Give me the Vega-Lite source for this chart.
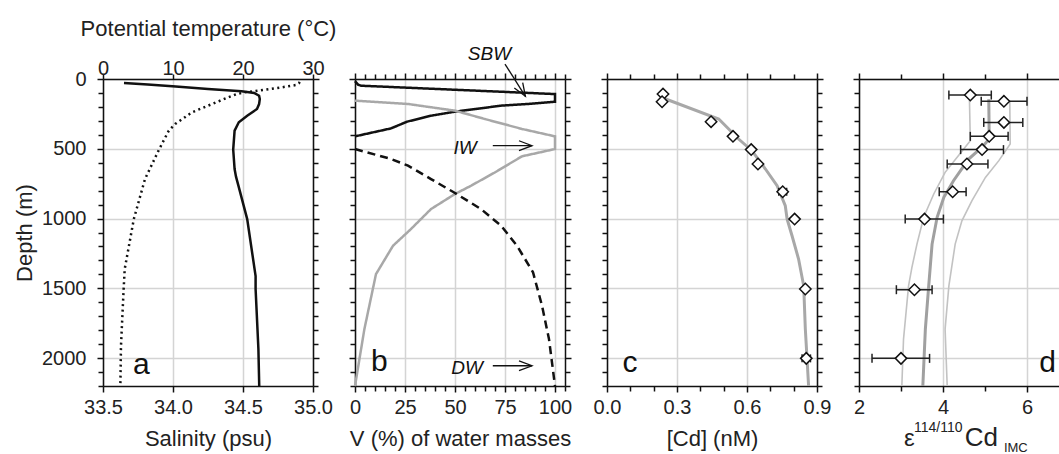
{
  "$schema": "https://vega.github.io/schema/vega-lite/v6.json",
  "padding": {"left": 13, "top": 17, "right": 0, "bottom": 0},
  "bounds": "flush",
  "spacing": 42,
  "resolve": {"scale": {"color": "independent", "strokeDash": "independent", "strokeWidth": "independent"}},
  "config": {
    "font": "Liberation Sans",
    "view": {"stroke": null},
    "axis": {
      "domainColor": "#111", "domainWidth": 1.5, "tickColor": "#111", "tickWidth": 1.5,
      "gridColor": "#d4d4d4", "gridWidth": 1.5,
      "labelFont": "Liberation Sans", "labelFontSize": 20, "labelColor": "#222",
      "titleFont": "Liberation Sans", "titleFontSize": 22, "titleFontWeight": "normal", "titleColor": "#222",
      "labelFlush": false, "labelOverlap": false, "labelBound": false
    }
  },
  "datasets": {
    "a_sal": [
      {"depth": 29, "sal": 33.65}, {"depth": 40, "sal": 33.82}, {"depth": 53, "sal": 34.02}, {"depth": 72, "sal": 34.25},
      {"depth": 88, "sal": 34.49}, {"depth": 100, "sal": 34.58}, {"depth": 120, "sal": 34.615}, {"depth": 143, "sal": 34.62},
      {"depth": 180, "sal": 34.615}, {"depth": 215, "sal": 34.6}, {"depth": 263, "sal": 34.53}, {"depth": 310, "sal": 34.47},
      {"depth": 370, "sal": 34.44}, {"depth": 506, "sal": 34.43}, {"depth": 645, "sal": 34.44}, {"depth": 700, "sal": 34.45},
      {"depth": 775, "sal": 34.47}, {"depth": 1004, "sal": 34.53}, {"depth": 1412, "sal": 34.59}, {"depth": 1505, "sal": 34.59},
      {"depth": 1935, "sal": 34.61}, {"depth": 2200, "sal": 34.616}
    ],
    "a_temp": [
      {"depth": 20, "temp": 28.1}, {"depth": 29, "temp": 28.0}, {"depth": 43, "temp": 27.6}, {"depth": 60, "temp": 25.5},
      {"depth": 76, "temp": 23.2}, {"depth": 96, "temp": 20.2}, {"depth": 110, "temp": 19.0}, {"depth": 131, "temp": 17.9},
      {"depth": 179, "temp": 15.6}, {"depth": 239, "temp": 12.7}, {"depth": 323, "temp": 10.3}, {"depth": 370, "temp": 9.4},
      {"depth": 506, "temp": 8.0}, {"depth": 717, "temp": 6.0}, {"depth": 1004, "temp": 4.4}, {"depth": 1362, "temp": 3.1},
      {"depth": 1505, "temp": 2.95}, {"depth": 1911, "temp": 2.57}, {"depth": 2200, "temp": 2.48}
    ],
    "b": [
      {"mass": "SBW", "depth": 15, "v": 0}, {"mass": "SBW", "depth": 40, "v": 1.5}, {"mass": "SBW", "depth": 48, "v": 3},
      {"mass": "SBW", "depth": 108, "v": 100}, {"mass": "SBW", "depth": 163, "v": 100}, {"mass": "SBW", "depth": 179, "v": 86.5},
      {"mass": "SBW", "depth": 191, "v": 73}, {"mass": "SBW", "depth": 210, "v": 63}, {"mass": "SBW", "depth": 234, "v": 50},
      {"mass": "SBW", "depth": 263, "v": 38}, {"mass": "SBW", "depth": 306, "v": 26}, {"mass": "SBW", "depth": 354, "v": 18},
      {"mass": "SBW", "depth": 411, "v": 0},
      {"mass": "IW", "depth": 155, "v": 0}, {"mass": "IW", "depth": 179, "v": 26.5}, {"mass": "IW", "depth": 227, "v": 50},
      {"mass": "IW", "depth": 287, "v": 65}, {"mass": "IW", "depth": 358, "v": 83.5}, {"mass": "IW", "depth": 411, "v": 100},
      {"mass": "IW", "depth": 502, "v": 100}, {"mass": "IW", "depth": 554, "v": 83.5}, {"mass": "IW", "depth": 669, "v": 70},
      {"mass": "IW", "depth": 765, "v": 58}, {"mass": "IW", "depth": 824, "v": 50}, {"mass": "IW", "depth": 932, "v": 38},
      {"mass": "IW", "depth": 1075, "v": 28}, {"mass": "IW", "depth": 1195, "v": 19}, {"mass": "IW", "depth": 1398, "v": 10.5},
      {"mass": "IW", "depth": 1792, "v": 4.7}, {"mass": "IW", "depth": 2200, "v": 0},
      {"mass": "DW", "depth": 502, "v": 0}, {"mass": "DW", "depth": 573, "v": 18}, {"mass": "DW", "depth": 621, "v": 26.5},
      {"mass": "DW", "depth": 717, "v": 38}, {"mass": "DW", "depth": 817, "v": 50}, {"mass": "DW", "depth": 932, "v": 63},
      {"mass": "DW", "depth": 1051, "v": 73}, {"mass": "DW", "depth": 1195, "v": 81}, {"mass": "DW", "depth": 1385, "v": 89},
      {"mass": "DW", "depth": 1624, "v": 93.5}, {"mass": "DW", "depth": 1864, "v": 97}, {"mass": "DW", "depth": 2200, "v": 100}
    ],
    "c_pts": [
      {"depth": 108, "cd": 0.24}, {"depth": 163, "cd": 0.236}, {"depth": 306, "cd": 0.446}, {"depth": 411, "cd": 0.54},
      {"depth": 506, "cd": 0.618}, {"depth": 609, "cd": 0.647}, {"depth": 808, "cd": 0.753}, {"depth": 1004, "cd": 0.804},
      {"depth": 1505, "cd": 0.85}, {"depth": 2002, "cd": 0.854}
    ],
    "c_err": [
      {"depth": 808, "lo": 0.736, "hi": 0.77}, {"depth": 2002, "lo": 0.836, "hi": 0.872}
    ],
    "c_line": [
      {"depth": 138, "cd": 0.243}, {"depth": 287, "cd": 0.479}, {"depth": 430, "cd": 0.564}, {"depth": 514, "cd": 0.621},
      {"depth": 645, "cd": 0.679}, {"depth": 765, "cd": 0.729}, {"depth": 908, "cd": 0.764}, {"depth": 1004, "cd": 0.772},
      {"depth": 1123, "cd": 0.793}, {"depth": 1290, "cd": 0.821}, {"depth": 1482, "cd": 0.843}, {"depth": 1792, "cd": 0.85},
      {"depth": 2200, "cd": 0.864}
    ],
    "d_pts": [
      {"depth": 115, "eps": 4.65, "lo": 4.14, "hi": 5.15}, {"depth": 160, "eps": 5.45, "lo": 4.91, "hi": 6.0},
      {"depth": 311, "eps": 5.45, "lo": 4.97, "hi": 5.9}, {"depth": 411, "eps": 5.1, "lo": 4.65, "hi": 5.55},
      {"depth": 506, "eps": 4.93, "lo": 4.42, "hi": 5.44}, {"depth": 609, "eps": 4.57, "lo": 4.1, "hi": 5.07},
      {"depth": 808, "eps": 4.23, "lo": 3.91, "hi": 4.55}, {"depth": 1004, "eps": 3.56, "lo": 3.1, "hi": 4.01},
      {"depth": 1510, "eps": 3.32, "lo": 2.89, "hi": 3.74}, {"depth": 2002, "eps": 3.0, "lo": 2.31, "hi": 3.68}
    ],
    "d_lines": [
      {"band": "lo", "depth": 150, "eps": 4.63}, {"band": "lo", "depth": 442, "eps": 4.65}, {"band": "lo", "depth": 549, "eps": 4.37},
      {"band": "lo", "depth": 669, "eps": 4.05}, {"band": "lo", "depth": 824, "eps": 3.78}, {"band": "lo", "depth": 991, "eps": 3.54},
      {"band": "lo", "depth": 1183, "eps": 3.38}, {"band": "lo", "depth": 1350, "eps": 3.26}, {"band": "lo", "depth": 1482, "eps": 3.18},
      {"band": "lo", "depth": 1864, "eps": 3.06}, {"band": "lo", "depth": 2200, "eps": 3.02},
      {"band": "mid", "depth": 145, "eps": 5.09}, {"band": "mid", "depth": 430, "eps": 5.1}, {"band": "mid", "depth": 489, "eps": 4.93},
      {"band": "mid", "depth": 574, "eps": 4.61}, {"band": "mid", "depth": 729, "eps": 4.25}, {"band": "mid", "depth": 848, "eps": 4.02},
      {"band": "mid", "depth": 991, "eps": 3.86}, {"band": "mid", "depth": 1183, "eps": 3.74}, {"band": "mid", "depth": 1482, "eps": 3.66},
      {"band": "mid", "depth": 1792, "eps": 3.58}, {"band": "mid", "depth": 2200, "eps": 3.52},
      {"band": "hi", "depth": 165, "eps": 5.59}, {"band": "hi", "depth": 466, "eps": 5.6}, {"band": "hi", "depth": 585, "eps": 5.33},
      {"band": "hi", "depth": 705, "eps": 5.01}, {"band": "hi", "depth": 872, "eps": 4.69}, {"band": "hi", "depth": 1016, "eps": 4.45},
      {"band": "hi", "depth": 1183, "eps": 4.29}, {"band": "hi", "depth": 1482, "eps": 4.14}, {"band": "hi", "depth": 1792, "eps": 4.05},
      {"band": "hi", "depth": 2200, "eps": 4.1}
    ]
  },
  "hconcat": [
    {
      "width": 210, "height": 307,
      "resolve": {"scale": {"x": "independent", "y": "independent"}},
      "layer": [
        {
          "data": {"name": "a_sal"},
          "mark": {"type": "line", "color": "#111", "strokeWidth": 2.5},
          "encoding": {
            "x": {"field": "sal", "type": "quantitative", "scale": {"domain": [33.5, 35], "nice": false, "zero": false},
              "axis": {"orient": "bottom", "title": "Salinity (psu)", "values": [33.5, 34, 34.5, 35], "format": ".1f", "tickSize": 6, "labelPadding": 5, "titlePadding": 11, "grid": true}},
            "y": {"field": "depth", "type": "quantitative", "scale": {"domain": [0, 2200], "reverse": true, "nice": false, "zero": false},
              "axis": {"orient": "left", "title": "Depth (m)", "values": [0,100,200,300,400,500,600,700,800,900,1000,1100,1200,1300,1400,1500,1600,1700,1800,1900,2000,2100,2200],
                "labelExpr": "datum.value % 500 === 0 ? format(datum.value, 'd') : ''",
                "tickSize": {"condition": {"test": "datum.value % 500 === 0", "value": 6}, "value": 5},
                "grid": true, "gridOpacity": {"condition": {"test": "datum.value % 500 === 0", "value": 1}, "value": 0},
                "labelPadding": 11, "titlePadding": 5.5}},
            "order": {"field": "depth"}
          }
        },
        {
          "data": {"name": "a_temp"},
          "mark": {"type": "line", "color": "#111", "strokeWidth": 2.5, "strokeDash": [2, 3.5]},
          "encoding": {
            "x": {"field": "temp", "type": "quantitative", "scale": {"domain": [0, 30], "nice": false, "zero": false},
              "axis": {"orient": "top", "title": "Potential temperature (°C)", "values": [0, 10, 20, 30], "tickSize": 5, "labelPadding": -4.5, "titlePadding": 18.5, "grid": false}},
            "y": {"field": "depth", "type": "quantitative", "scale": {"domain": [0, 2200], "reverse": true, "nice": false, "zero": false},
              "axis": {"orient": "right", "title": null, "labels": false, "values": [0,100,200,300,400,500,600,700,800,900,1000,1100,1200,1300,1400,1500,1600,1700,1800,1900,2000,2100,2200],
                "tickSize": {"condition": {"test": "datum.value % 500 === 0", "value": 6}, "value": 5}, "grid": false}},
            "order": {"field": "depth"}
          }
        },
        {
          "data": {"values": [{}]},
          "mark": {"type": "text", "text": "a", "font": "Liberation Sans", "fontSize": 30, "align": "left", "baseline": "alphabetic", "color": "#111"},
          "encoding": {
            "x": {"datum": 33.714, "type": "quantitative", "scale": {"domain": [33.5, 35], "nice": false, "zero": false}, "axis": null},
            "y": {"datum": 2115, "type": "quantitative", "scale": {"domain": [0, 2200], "reverse": true, "nice": false, "zero": false}, "axis": null}
          }
        }
      ]
    },
    {
      "width": 210, "height": 307,
      "resolve": {"scale": {"x": "independent", "y": "independent"}},
      "layer": [
        {
          "data": {"name": "b"},
          "mark": {"type": "line", "strokeWidth": 2.5},
          "encoding": {
            "x": {"field": "v", "type": "quantitative", "scale": {"domain": [0, 105], "nice": false, "zero": false},
              "axis": {"orient": "bottom", "title": "V (%) of water masses", "values": [0,5,10,15,20,25,30,35,40,45,50,55,60,65,70,75,80,85,90,95,100,105],
                "labelExpr": "datum.value % 25 === 0 ? datum.label : ''",
                "tickSize": {"condition": {"test": "datum.value % 25 === 0", "value": 6}, "value": 5},
                "grid": true, "gridOpacity": {"condition": {"test": "datum.value % 25 === 0", "value": 1}, "value": 0},
                "labelPadding": 5, "titlePadding": 11}},
            "y": {"field": "depth", "type": "quantitative", "scale": {"domain": [0, 2200], "reverse": true, "nice": false, "zero": false},
              "axis": {"orient": "left", "title": null, "labels": false, "values": [0,100,200,300,400,500,600,700,800,900,1000,1100,1200,1300,1400,1500,1600,1700,1800,1900,2000,2100,2200],
                "tickSize": {"condition": {"test": "datum.value % 500 === 0", "value": 6}, "value": 5},
                "grid": true, "gridOpacity": {"condition": {"test": "datum.value % 500 === 0", "value": 1}, "value": 0}}},
            "color": {"field": "mass", "type": "nominal", "scale": {"type": "ordinal", "domain": ["SBW", "IW", "DW"], "range": ["#111111", "#a8a8a8", "#111111"]}, "legend": null},
            "strokeDash": {"field": "mass", "type": "nominal", "scale": {"type": "ordinal", "domain": ["SBW", "IW", "DW"], "range": [[1, 0], [1, 0], [8, 5]]}, "legend": null},
            "order": {"field": "depth"}
          }
        },
        {
          "data": {"name": "b"},
          "mark": {"type": "point", "opacity": 0},
          "encoding": {
            "x": {"field": "v", "type": "quantitative", "scale": {"domain": [0, 105], "nice": false, "zero": false},
              "axis": {"orient": "top", "title": null, "labels": false, "values": [0,5,10,15,20,25,30,35,40,45,50,55,60,65,70,75,80,85,90,95,100,105],
                "tickSize": {"condition": {"test": "datum.value % 25 === 0", "value": 6}, "value": 5}, "grid": false}},
            "y": {"field": "depth", "type": "quantitative", "scale": {"domain": [0, 2200], "reverse": true, "nice": false, "zero": false},
              "axis": {"orient": "right", "title": null, "labels": false, "values": [0,100,200,300,400,500,600,700,800,900,1000,1100,1200,1300,1400,1500,1600,1700,1800,1900,2000,2100,2200],
                "tickSize": {"condition": {"test": "datum.value % 500 === 0", "value": 6}, "value": 5}, "grid": false}}
          }
        },
        {
          "data": {"values": [{}]},
          "mark": {"type": "text", "text": "SBW", "font": "Liberation Sans", "fontSize": 19, "fontStyle": "italic", "align": "center", "baseline": "alphabetic", "color": "#111"},
          "encoding": {
            "x": {"datum": 67.25, "type": "quantitative", "scale": {"domain": [0, 105], "nice": false, "zero": false}, "axis": null},
            "y": {"datum": -136, "type": "quantitative", "scale": {"domain": [0, 2200], "reverse": true, "nice": false, "zero": false}, "axis": null}
          }
        },
        {
          "data": {"values": [{}]},
          "mark": {"type": "text", "text": "IW", "font": "Liberation Sans", "fontSize": 19, "fontStyle": "italic", "align": "center", "baseline": "alphabetic", "color": "#111"},
          "encoding": {
            "x": {"datum": 55, "type": "quantitative", "scale": {"domain": [0, 105], "nice": false, "zero": false}, "axis": null},
            "y": {"datum": 538, "type": "quantitative", "scale": {"domain": [0, 2200], "reverse": true, "nice": false, "zero": false}, "axis": null}
          }
        },
        {
          "data": {"values": [{}]},
          "mark": {"type": "text", "text": "DW", "font": "Liberation Sans", "fontSize": 19, "fontStyle": "italic", "align": "center", "baseline": "alphabetic", "color": "#111"},
          "encoding": {
            "x": {"datum": 56, "type": "quantitative", "scale": {"domain": [0, 105], "nice": false, "zero": false}, "axis": null},
            "y": {"datum": 2115, "type": "quantitative", "scale": {"domain": [0, 2200], "reverse": true, "nice": false, "zero": false}, "axis": null}
          }
        },
        {
          "data": {"values": [{}]},
          "mark": {"type": "text", "text": "b", "font": "Liberation Sans", "fontSize": 30, "align": "left", "baseline": "alphabetic", "color": "#111"},
          "encoding": {
            "x": {"datum": 8, "type": "quantitative", "scale": {"domain": [0, 105], "nice": false, "zero": false}, "axis": null},
            "y": {"datum": 2095, "type": "quantitative", "scale": {"domain": [0, 2200], "reverse": true, "nice": false, "zero": false}, "axis": null}
          }
        },
        {
          "data": {"values": [{}]},
          "mark": {"type": "rule", "color": "#111", "strokeWidth": 1.3},
          "encoding": {
            "x": {"datum": 75, "type": "quantitative", "scale": {"domain": [0, 105], "nice": false, "zero": false}, "axis": null},
            "x2": {"datum": 85.2},
            "y": {"datum": -107, "type": "quantitative", "scale": {"domain": [0, 2200], "reverse": true, "nice": false, "zero": false}, "axis": null},
            "y2": {"datum": 124}
          }
        },
        {
          "data": {"values": [{}]},
          "mark": {"type": "point", "shape": "M-1,-0.38L0,0L-1,0.38", "size": 676, "filled": false, "color": "#111", "strokeWidth": 1.3, "opacity": 1, "angle": 58},
          "encoding": {
            "x": {"datum": 85.2, "type": "quantitative", "scale": {"domain": [0, 105], "nice": false, "zero": false}, "axis": null},
            "y": {"datum": 124, "type": "quantitative", "scale": {"domain": [0, 2200], "reverse": true, "nice": false, "zero": false}, "axis": null}
          }
        },
        {
          "data": {"values": [{}]},
          "mark": {"type": "rule", "color": "#111", "strokeWidth": 1.3},
          "encoding": {
            "x": {"datum": 68.9, "type": "quantitative", "scale": {"domain": [0, 105], "nice": false, "zero": false}, "axis": null},
            "x2": {"datum": 88.5},
            "y": {"datum": 478, "type": "quantitative", "scale": {"domain": [0, 2200], "reverse": true, "nice": false, "zero": false}, "axis": null}
          }
        },
        {
          "data": {"values": [{}]},
          "mark": {"type": "point", "shape": "M-1,-0.38L0,0L-1,0.38", "size": 676, "filled": false, "color": "#111", "strokeWidth": 1.3, "opacity": 1},
          "encoding": {
            "x": {"datum": 88.5, "type": "quantitative", "scale": {"domain": [0, 105], "nice": false, "zero": false}, "axis": null},
            "y": {"datum": 478, "type": "quantitative", "scale": {"domain": [0, 2200], "reverse": true, "nice": false, "zero": false}, "axis": null}
          }
        },
        {
          "data": {"values": [{}]},
          "mark": {"type": "rule", "color": "#111", "strokeWidth": 1.3},
          "encoding": {
            "x": {"datum": 68.9, "type": "quantitative", "scale": {"domain": [0, 105], "nice": false, "zero": false}, "axis": null},
            "x2": {"datum": 88.5},
            "y": {"datum": 2055, "type": "quantitative", "scale": {"domain": [0, 2200], "reverse": true, "nice": false, "zero": false}, "axis": null}
          }
        },
        {
          "data": {"values": [{}]},
          "mark": {"type": "point", "shape": "M-1,-0.38L0,0L-1,0.38", "size": 676, "filled": false, "color": "#111", "strokeWidth": 1.3, "opacity": 1},
          "encoding": {
            "x": {"datum": 88.5, "type": "quantitative", "scale": {"domain": [0, 105], "nice": false, "zero": false}, "axis": null},
            "y": {"datum": 2055, "type": "quantitative", "scale": {"domain": [0, 2200], "reverse": true, "nice": false, "zero": false}, "axis": null}
          }
        }
      ]
    },
    {
      "width": 210, "height": 307,
      "resolve": {"scale": {"x": "independent", "y": "independent"}},
      "layer": [
        {
          "data": {"name": "c_line"},
          "mark": {"type": "line", "color": "#a8a8a8", "strokeWidth": 3},
          "encoding": {
            "x": {"field": "cd", "type": "quantitative", "scale": {"domain": [0, 0.9], "nice": false, "zero": false},
              "axis": {"orient": "bottom", "title": "[Cd] (nM)", "values": [0,0.1,0.2,0.3,0.4,0.5,0.6,0.7,0.8,0.9],
                "labelExpr": "round(datum.value*10) % 3 === 0 ? format(datum.value, '.1f') : ''",
                "tickSize": {"condition": {"test": "round(datum.value*10) % 3 === 0", "value": 6}, "value": 5},
                "grid": true, "gridOpacity": {"condition": {"test": "round(datum.value*10) % 3 === 0", "value": 1}, "value": 0},
                "labelPadding": 5, "titlePadding": 11}},
            "y": {"field": "depth", "type": "quantitative", "scale": {"domain": [0, 2200], "reverse": true, "nice": false, "zero": false},
              "axis": {"orient": "left", "title": null, "labels": false, "values": [0,100,200,300,400,500,600,700,800,900,1000,1100,1200,1300,1400,1500,1600,1700,1800,1900,2000,2100,2200],
                "tickSize": {"condition": {"test": "datum.value % 500 === 0", "value": 6}, "value": 5},
                "grid": true, "gridOpacity": {"condition": {"test": "datum.value % 500 === 0", "value": 1}, "value": 0}}},
            "order": {"field": "depth"}
          }
        },
        {
          "data": {"name": "c_pts"},
          "mark": {"type": "point", "opacity": 0},
          "encoding": {
            "x": {"field": "cd", "type": "quantitative", "scale": {"domain": [0, 0.9], "nice": false, "zero": false},
              "axis": {"orient": "top", "title": null, "labels": false, "values": [0,0.1,0.2,0.3,0.4,0.5,0.6,0.7,0.8,0.9],
                "tickSize": {"condition": {"test": "round(datum.value*10) % 3 === 0", "value": 6}, "value": 5}, "grid": false}},
            "y": {"field": "depth", "type": "quantitative", "scale": {"domain": [0, 2200], "reverse": true, "nice": false, "zero": false},
              "axis": {"orient": "right", "title": null, "labels": false, "values": [0,100,200,300,400,500,600,700,800,900,1000,1100,1200,1300,1400,1500,1600,1700,1800,1900,2000,2100,2200],
                "tickSize": {"condition": {"test": "datum.value % 500 === 0", "value": 6}, "value": 5}, "grid": false}}
          }
        },
        {
          "data": {"name": "c_err"},
          "mark": {"type": "rule", "color": "#222", "strokeWidth": 1.5},
          "encoding": {
            "x": {"field": "lo", "type": "quantitative", "scale": {"domain": [0, 0.9], "nice": false, "zero": false}, "axis": null},
            "x2": {"field": "hi"},
            "y": {"field": "depth", "type": "quantitative", "scale": {"domain": [0, 2200], "reverse": true, "nice": false, "zero": false}, "axis": null}
          }
        },
        {
          "data": {"name": "c_err"},
          "mark": {"type": "tick", "orient": "vertical", "color": "#222", "thickness": 1.5, "size": 8, "opacity": 1},
          "encoding": {
            "x": {"field": "lo", "type": "quantitative", "scale": {"domain": [0, 0.9], "nice": false, "zero": false}, "axis": null},
            "y": {"field": "depth", "type": "quantitative", "scale": {"domain": [0, 2200], "reverse": true, "nice": false, "zero": false}, "axis": null}
          }
        },
        {
          "data": {"name": "c_err"},
          "mark": {"type": "tick", "orient": "vertical", "color": "#222", "thickness": 1.5, "size": 8, "opacity": 1},
          "encoding": {
            "x": {"field": "hi", "type": "quantitative", "scale": {"domain": [0, 0.9], "nice": false, "zero": false}, "axis": null},
            "y": {"field": "depth", "type": "quantitative", "scale": {"domain": [0, 2200], "reverse": true, "nice": false, "zero": false}, "axis": null}
          }
        },
        {
          "data": {"name": "c_pts"},
          "mark": {"type": "point", "shape": "diamond", "size": 130, "filled": true, "fill": "#ffffff", "stroke": "#111", "strokeWidth": 1.5, "opacity": 1},
          "encoding": {
            "x": {"field": "cd", "type": "quantitative", "scale": {"domain": [0, 0.9], "nice": false, "zero": false}, "axis": null},
            "y": {"field": "depth", "type": "quantitative", "scale": {"domain": [0, 2200], "reverse": true, "nice": false, "zero": false}, "axis": null}
          }
        },
        {
          "data": {"values": [{}]},
          "mark": {"type": "text", "text": "c", "font": "Liberation Sans", "fontSize": 30, "align": "left", "baseline": "alphabetic", "color": "#111"},
          "encoding": {
            "x": {"datum": 0.066, "type": "quantitative", "scale": {"domain": [0, 0.9], "nice": false, "zero": false}, "axis": null},
            "y": {"datum": 2098, "type": "quantitative", "scale": {"domain": [0, 2200], "reverse": true, "nice": false, "zero": false}, "axis": null}
          }
        }
      ]
    },
    {
      "width": 210, "height": 307,
      "resolve": {"scale": {"x": "independent", "y": "independent"}},
      "layer": [
        {
          "data": {"name": "d_lines"},
          "mark": {"type": "line"},
          "encoding": {
            "x": {"field": "eps", "type": "quantitative", "scale": {"domain": [2, 7], "nice": false, "zero": false},
              "axis": {"orient": "bottom", "title": null, "values": [2,3,4,5,6,7],
                "labelExpr": "datum.value % 2 === 0 ? datum.label : ''",
                "tickSize": {"condition": {"test": "datum.value % 2 === 0", "value": 6}, "value": 5},
                "grid": true, "gridOpacity": {"condition": {"test": "datum.value % 2 === 0", "value": 1}, "value": 0},
                "labelPadding": 5}},
            "y": {"field": "depth", "type": "quantitative", "scale": {"domain": [0, 2200], "reverse": true, "nice": false, "zero": false},
              "axis": {"orient": "left", "title": null, "labels": false, "values": [0,100,200,300,400,500,600,700,800,900,1000,1100,1200,1300,1400,1500,1600,1700,1800,1900,2000,2100,2200],
                "tickSize": {"condition": {"test": "datum.value % 500 === 0", "value": 6}, "value": 5},
                "grid": true, "gridOpacity": {"condition": {"test": "datum.value % 500 === 0", "value": 1}, "value": 0}}},
            "color": {"field": "band", "type": "nominal", "scale": {"type": "ordinal", "domain": ["lo", "mid", "hi"], "range": ["#c2c2c2", "#a0a0a0", "#c2c2c2"]}, "legend": null},
            "strokeWidth": {"field": "band", "type": "nominal", "scale": {"type": "ordinal", "domain": ["lo", "mid", "hi"], "range": [1.6, 3, 1.6]}, "legend": null},
            "order": {"field": "depth"}
          }
        },
        {
          "data": {"name": "d_pts"},
          "mark": {"type": "point", "opacity": 0},
          "encoding": {
            "x": {"field": "eps", "type": "quantitative", "scale": {"domain": [2, 7], "nice": false, "zero": false},
              "axis": {"orient": "top", "title": null, "labels": false, "values": [2,3,4,5,6,7],
                "tickSize": {"condition": {"test": "datum.value % 2 === 0", "value": 6}, "value": 5}, "grid": false}},
            "y": {"field": "depth", "type": "quantitative", "scale": {"domain": [0, 2200], "reverse": true, "nice": false, "zero": false},
              "axis": {"orient": "right", "title": null, "labels": false, "values": [0,100,200,300,400,500,600,700,800,900,1000,1100,1200,1300,1400,1500,1600,1700,1800,1900,2000,2100,2200],
                "tickSize": {"condition": {"test": "datum.value % 500 === 0", "value": 6}, "value": 5}, "grid": false}}
          }
        },
        {
          "data": {"name": "d_pts"},
          "mark": {"type": "rule", "color": "#222", "strokeWidth": 1.5},
          "encoding": {
            "x": {"field": "lo", "type": "quantitative", "scale": {"domain": [2, 7], "nice": false, "zero": false}, "axis": null},
            "x2": {"field": "hi"},
            "y": {"field": "depth", "type": "quantitative", "scale": {"domain": [0, 2200], "reverse": true, "nice": false, "zero": false}, "axis": null}
          }
        },
        {
          "data": {"name": "d_pts"},
          "mark": {"type": "tick", "orient": "vertical", "color": "#222", "thickness": 1.5, "size": 9, "opacity": 1},
          "encoding": {
            "x": {"field": "lo", "type": "quantitative", "scale": {"domain": [2, 7], "nice": false, "zero": false}, "axis": null},
            "y": {"field": "depth", "type": "quantitative", "scale": {"domain": [0, 2200], "reverse": true, "nice": false, "zero": false}, "axis": null}
          }
        },
        {
          "data": {"name": "d_pts"},
          "mark": {"type": "tick", "orient": "vertical", "color": "#222", "thickness": 1.5, "size": 9, "opacity": 1},
          "encoding": {
            "x": {"field": "hi", "type": "quantitative", "scale": {"domain": [2, 7], "nice": false, "zero": false}, "axis": null},
            "y": {"field": "depth", "type": "quantitative", "scale": {"domain": [0, 2200], "reverse": true, "nice": false, "zero": false}, "axis": null}
          }
        },
        {
          "data": {"name": "d_pts"},
          "mark": {"type": "point", "shape": "diamond", "size": 130, "filled": true, "fill": "#ffffff", "stroke": "#111", "strokeWidth": 1.5, "opacity": 1},
          "encoding": {
            "x": {"field": "eps", "type": "quantitative", "scale": {"domain": [2, 7], "nice": false, "zero": false}, "axis": null},
            "y": {"field": "depth", "type": "quantitative", "scale": {"domain": [0, 2200], "reverse": true, "nice": false, "zero": false}, "axis": null}
          }
        },
        {
          "data": {"values": [{}]},
          "mark": {"type": "text", "text": "d", "font": "Liberation Sans", "fontSize": 30, "align": "left", "baseline": "alphabetic", "color": "#111"},
          "encoding": {
            "x": {"datum": 6.29, "type": "quantitative", "scale": {"domain": [2, 7], "nice": false, "zero": false}, "axis": null},
            "y": {"datum": 2103, "type": "quantitative", "scale": {"domain": [0, 2200], "reverse": true, "nice": false, "zero": false}, "axis": null}
          }
        },
        {
          "data": {"values": [{}]},
          "mark": {"type": "text", "text": "ε", "font": "Liberation Sans", "fontSize": 24, "align": "left", "baseline": "alphabetic", "color": "#222"},
          "encoding": {
            "x": {"datum": 3.07, "type": "quantitative", "scale": {"domain": [2, 7], "nice": false, "zero": false}, "axis": null},
            "y": {"datum": 2631, "type": "quantitative", "scale": {"domain": [0, 2200], "reverse": true, "nice": false, "zero": false}, "axis": null}
          }
        },
        {
          "data": {"values": [{}]},
          "mark": {"type": "text", "text": "114/110", "font": "Liberation Sans", "fontSize": 14, "align": "left", "baseline": "alphabetic", "color": "#222"},
          "encoding": {
            "x": {"datum": 3.31, "type": "quantitative", "scale": {"domain": [2, 7], "nice": false, "zero": false}, "axis": null},
            "y": {"datum": 2530, "type": "quantitative", "scale": {"domain": [0, 2200], "reverse": true, "nice": false, "zero": false}, "axis": null}
          }
        },
        {
          "data": {"values": [{}]},
          "mark": {"type": "text", "text": "Cd", "font": "Liberation Sans", "fontSize": 26, "align": "left", "baseline": "alphabetic", "color": "#222"},
          "encoding": {
            "x": {"datum": 4.52, "type": "quantitative", "scale": {"domain": [2, 7], "nice": false, "zero": false}, "axis": null},
            "y": {"datum": 2631, "type": "quantitative", "scale": {"domain": [0, 2200], "reverse": true, "nice": false, "zero": false}, "axis": null}
          }
        },
        {
          "data": {"values": [{}]},
          "mark": {"type": "text", "text": "IMC", "font": "Liberation Sans", "fontSize": 13, "align": "left", "baseline": "alphabetic", "color": "#222"},
          "encoding": {
            "x": {"datum": 5.45, "type": "quantitative", "scale": {"domain": [2, 7], "nice": false, "zero": false}, "axis": null},
            "y": {"datum": 2672, "type": "quantitative", "scale": {"domain": [0, 2200], "reverse": true, "nice": false, "zero": false}, "axis": null}
          }
        }
      ]
    }
  ]
}
